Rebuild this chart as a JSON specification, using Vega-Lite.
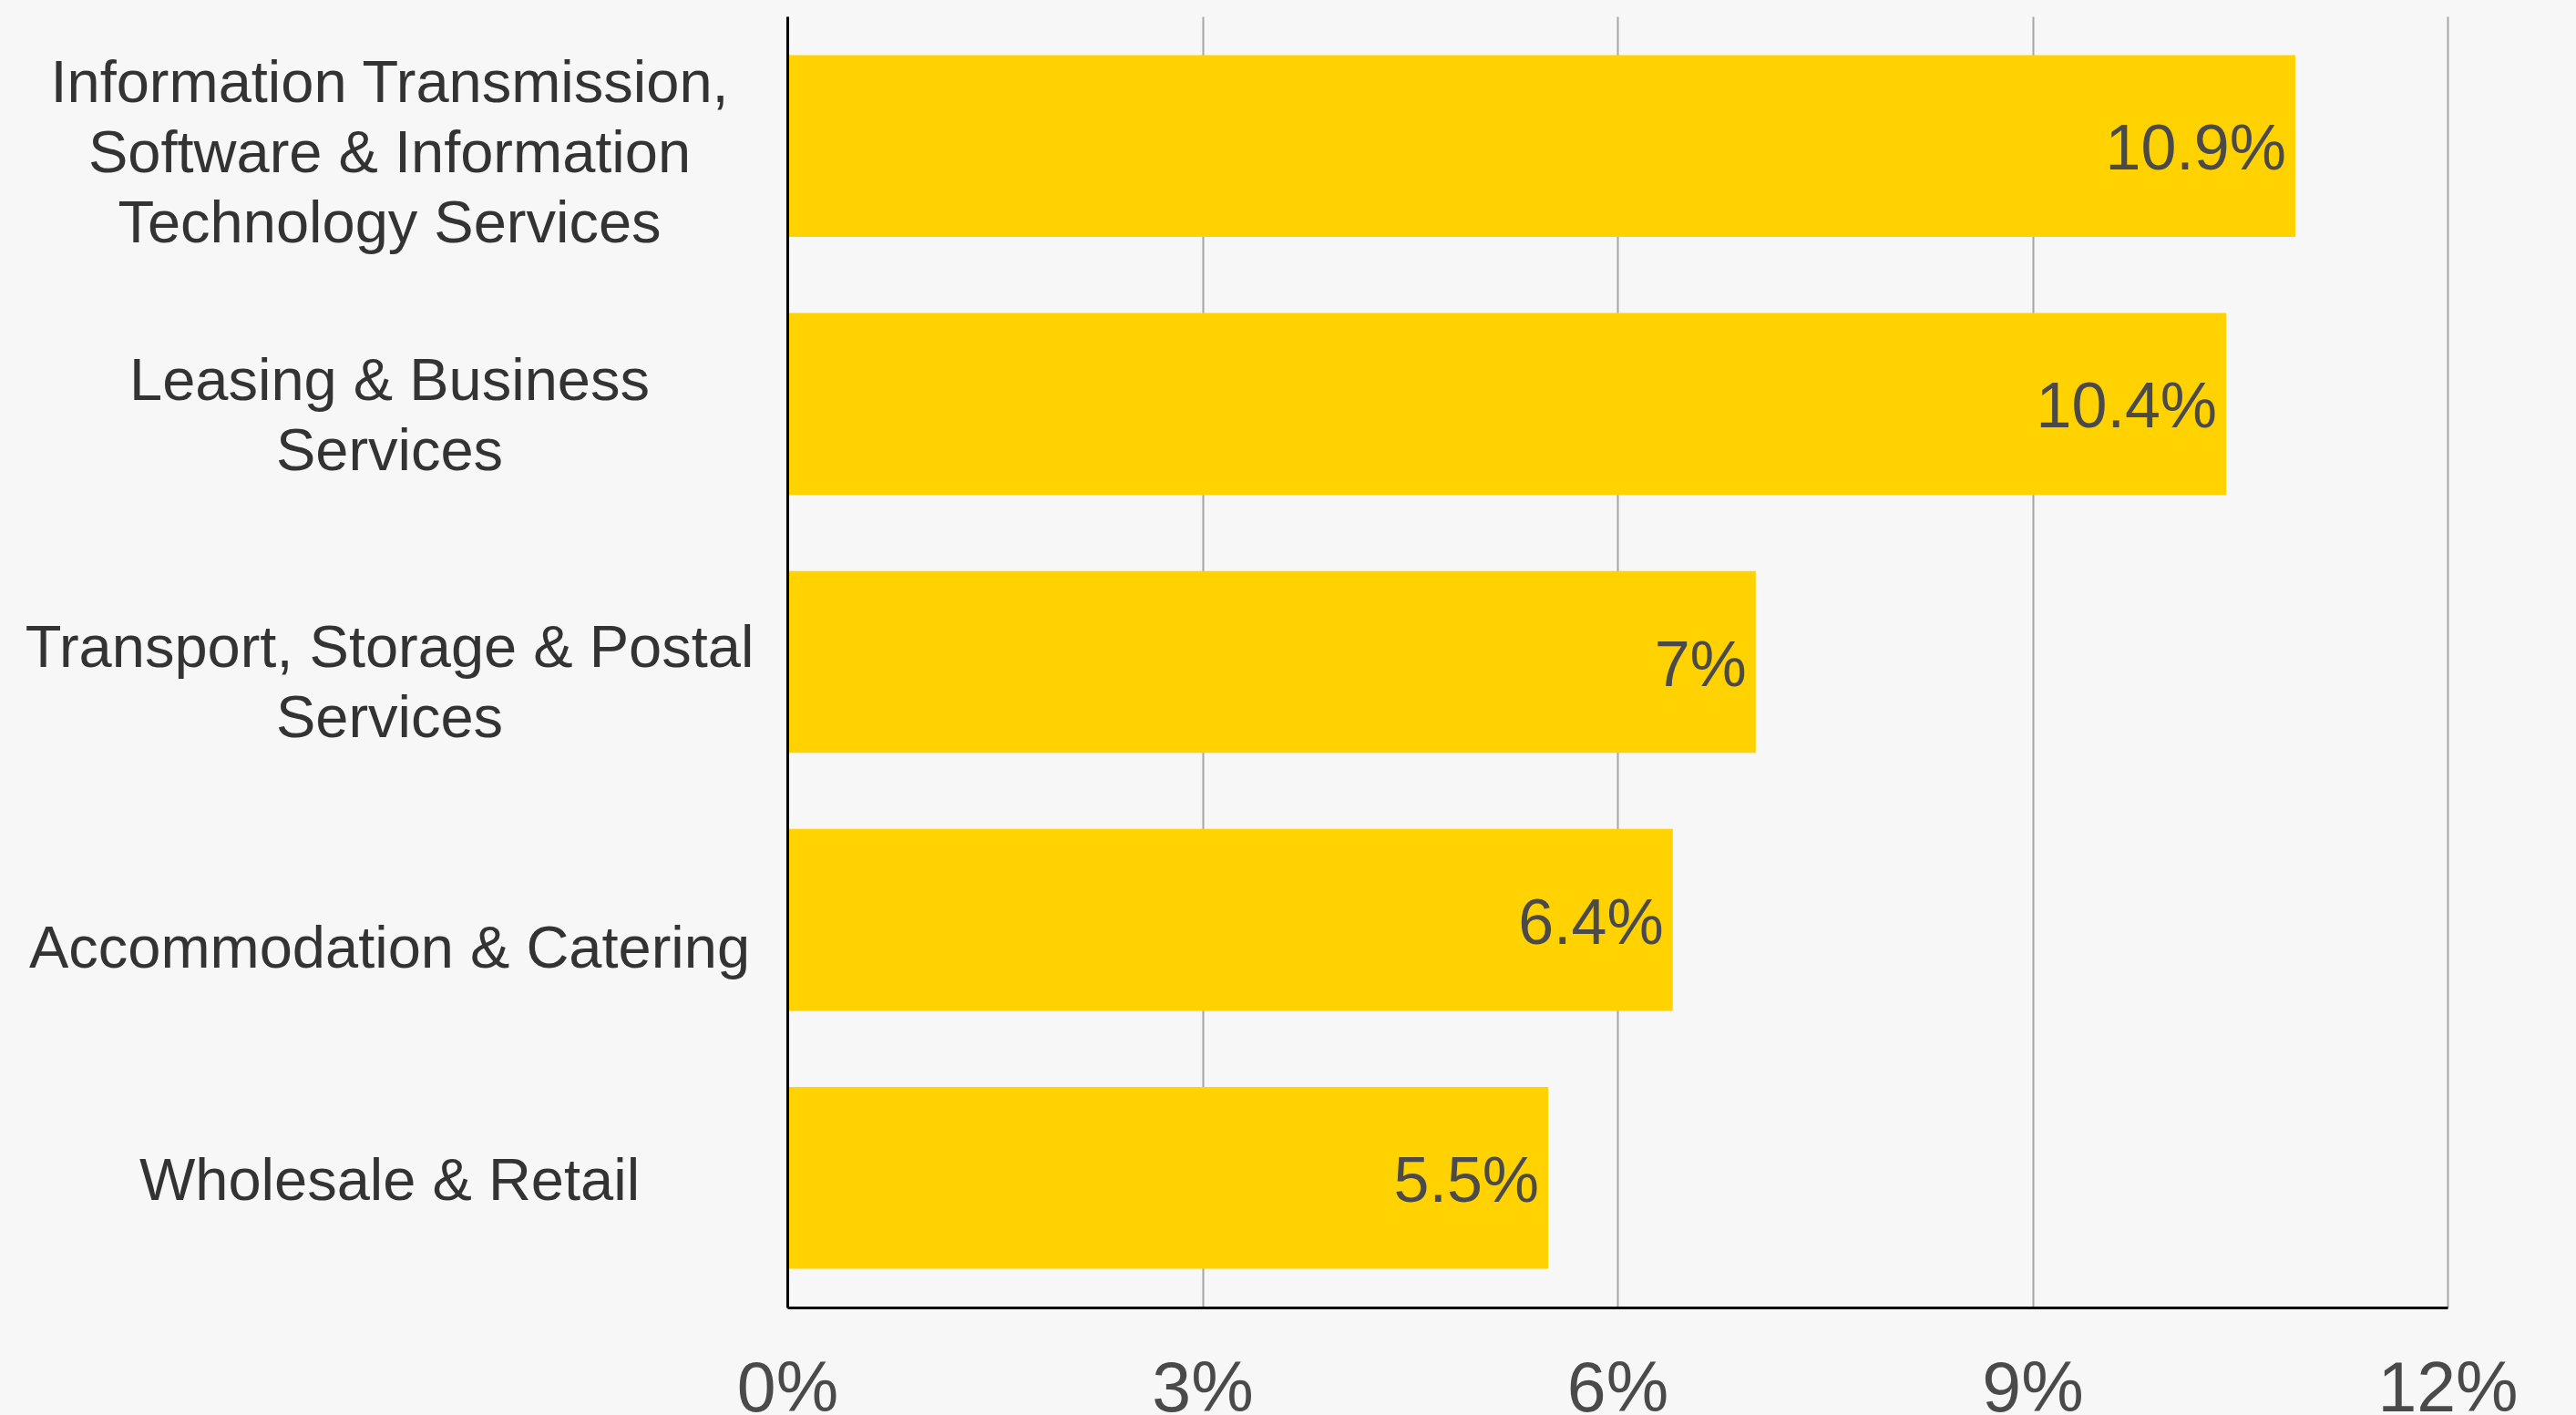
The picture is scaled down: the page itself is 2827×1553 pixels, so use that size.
{
  "$schema": "https://vega.github.io/schema/vega-lite/v6.json",
  "width": 1822,
  "height": 1417,
  "autosize": "none",
  "padding": {"left": 864, "top": 18, "right": 141, "bottom": 118},
  "background": "#f7f7f7",
  "config": {"view": {"stroke": null}, "font": "Liberation Sans"},
  "data": {
    "values": [
      {"sector": "Information Transmission,|Software & Information|Technology Services", "value": 10.9, "label": "10.9%"},
      {"sector": "Leasing & Business|Services", "value": 10.4, "label": "10.4%"},
      {"sector": "Transport, Storage & Postal|Services", "value": 7, "label": "7%"},
      {"sector": "Accommodation & Catering", "value": 6.4, "label": "6.4%"},
      {"sector": "Wholesale & Retail", "value": 5.5, "label": "5.5%"}
    ]
  },
  "encoding": {
    "y": {
      "field": "sector",
      "type": "nominal",
      "sort": null,
      "scale": {"paddingInner": 0.295, "paddingOuter": 0.15},
      "axis": {
        "title": null,
        "ticks": false,
        "domainColor": "#000000",
        "domainWidth": 3,
        "labelAlign": "center",
        "labelBaseline": "middle",
        "labelPadding": 437,
        "labelFontSize": 65,
        "labelColor": "#333333",
        "labelLineHeight": 77,
        "labelLimit": 0,
        "labelExpr": "split(datum.label, '|')",
        "labelOffset": {
          "condition": [
            {"test": "indexof(datum.value, 'Information') >= 0", "value": -68},
            {"test": "indexof(datum.value, 'Leasing') >= 0", "value": -24},
            {"test": "indexof(datum.value, 'Transport') >= 0", "value": -15},
            {"test": "indexof(datum.value, 'Accommodation') >= 0", "value": 32}
          ],
          "value": 4
        },
        "zindex": 1
      }
    },
    "x": {
      "field": "value",
      "type": "quantitative",
      "scale": {"domain": [0, 12], "nice": false},
      "axis": {
        "title": null,
        "values": [0, 3, 6, 9, 12],
        "labelExpr": "datum.value + '%'",
        "grid": true,
        "gridColor": "#a6a6a6",
        "gridWidth": 2,
        "ticks": false,
        "domainColor": "#000000",
        "domainWidth": 3,
        "labelFontSize": 77,
        "labelColor": "#4a4a4a",
        "labelBaseline": "alphabetic",
        "labelPadding": 113,
        "labelFlush": false
      }
    }
  },
  "layer": [
    {"mark": {"type": "bar", "color": "#FFD200"}},
    {
      "mark": {"type": "text", "align": "right", "baseline": "middle", "dx": -10, "dy": 5, "fontSize": 70, "color": "#4a4a4a"},
      "encoding": {"text": {"field": "label"}}
    }
  ]
}
